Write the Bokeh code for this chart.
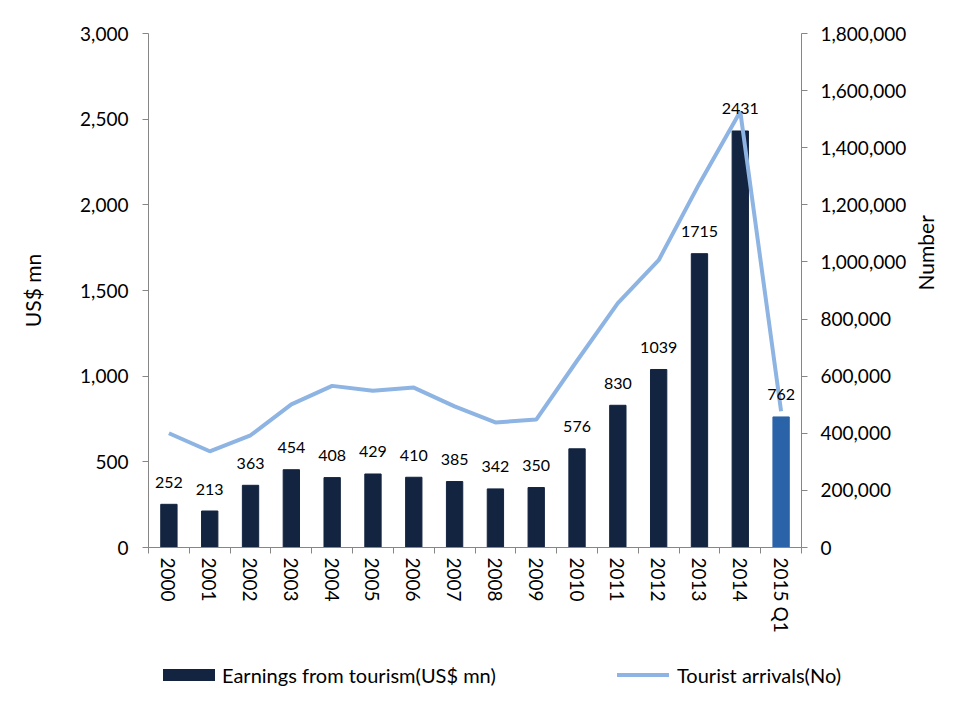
import math
from bokeh.plotting import figure
from bokeh.layouts import column
from bokeh.models import (Range1d, LinearAxis, FixedTicker, NumeralTickFormatter,
                          ColumnDataSource, Div)
from bokeh.core.properties import value
from bokeh.embed import file_html
from bokeh.resources import INLINE

categories = ["2000", "2001", "2002", "2003", "2004", "2005", "2006", "2007",
              "2008", "2009", "2010", "2011", "2012", "2013", "2014", "2015 Q1"]
earnings = [252, 213, 363, 454, 408, 429, 410, 385, 342, 350, 576, 830, 1039, 1715, 2431, 762]
arrivals = [400000, 337000, 393000, 501000, 566000, 549000, 560000, 494000,
            438000, 448000, 654000, 856000, 1006000, 1275000, 1527000, 477000]
left_ticks = [0, 500, 1000, 1500, 2000, 2500, 3000]
right_ticks = [0, 200000, 400000, 600000, 800000, 1000000, 1200000, 1400000, 1600000, 1800000]
series_names = ["Earnings from tourism(US$ mn)", "Tourist arrivals(No)"]

NAVY = "#132440"
BLUE = "#2B63A8"
LINE = "#8DB4E2"
AXIS = "#868686"
FONT = "Lato"

n = len(categories)
xs = list(range(n))
colors = [NAVY] * (n - 1) + [BLUE]
src = ColumnDataSource(dict(x=xs, top=earnings, arr=arrivals, color=colors,
                            lbl=[str(v) for v in earnings]))

p = figure(width=953, height=640, output_backend="svg", toolbar_location=None,
           x_range=Range1d(-0.5, n - 0.5), y_range=Range1d(0, 3000),
           min_border_left=148, min_border_right=150, min_border_top=33,
           min_border_bottom=93)
p.extra_y_ranges = {"right": Range1d(0, 1800000)}
p.outline_line_color = None
p.xgrid.visible = False
p.ygrid.visible = False

bars = p.vbar(x="x", top="top", width=0.4, color="color", source=src)
ln = p.line(x="x", y="arr", y_range_name="right", line_color=LINE, line_width=4,
            source=src)
p.text(x="x", y="top", text="lbl", source=src, text_align="center",
       text_baseline="middle", y_offset=-22, text_font=value(FONT),
       text_font_size="16px", text_color="#000000")

# x axis
xa = p.xaxis[0]
xa.ticker = FixedTicker(ticks=xs, minor_ticks=[i - 0.5 for i in range(n + 1)])
xa.major_label_overrides = {i: c for i, c in enumerate(categories)}
xa.major_label_orientation = "vertical"
xa.major_tick_line_color = None
xa.minor_tick_out = 6
xa.minor_tick_in = 0
xa.minor_tick_line_color = AXIS
xa.axis_line_color = AXIS
xa.major_label_text_font = FONT
xa.major_label_text_font_size = "19px"
xa.major_label_text_color = "#000000"
xa.major_label_standoff = 4

# left axis
ya = p.yaxis[0]
ya.ticker = FixedTicker(ticks=left_ticks)
ya.formatter = NumeralTickFormatter(format="0,0")
ya.axis_label = "US$ mn"
ya.minor_tick_line_color = None
ya.major_tick_out = 6
ya.major_tick_in = 0
ya.major_tick_line_color = AXIS
ya.axis_line_color = AXIS
ya.major_label_text_font = FONT
ya.major_label_text_font_size = "19px"
ya.major_label_text_color = "#000000"
ya.major_label_standoff = 14
ya.axis_label_text_font = FONT
ya.axis_label_text_font_size = "21px"
ya.axis_label_text_font_style = "normal"
ya.axis_label_text_color = "#000000"
ya.axis_label_standoff = 32

# right axis
ra = LinearAxis(y_range_name="right", axis_label="Number")
ra.ticker = FixedTicker(ticks=right_ticks)
ra.formatter = NumeralTickFormatter(format="0,0")
ra.minor_tick_line_color = None
ra.major_tick_out = 6
ra.major_tick_in = 0
ra.major_tick_line_color = AXIS
ra.axis_line_color = AXIS
ra.major_label_text_font = FONT
ra.major_label_text_font_size = "19px"
ra.major_label_text_color = "#000000"
ra.major_label_standoff = 13
ra.axis_label_text_font = FONT
ra.axis_label_text_font_size = "21px"
ra.axis_label_text_font_style = "normal"
ra.axis_label_text_color = "#000000"
ra.axis_label_standoff = 16
ra.axis_label_orientation = math.pi / 2
p.add_layout(ra, "right")

# legend strip (HTML swatches + real text)
legend_html = f"""
<div style="position:relative;width:953px;height:51px;font-family:'{FONT}';
font-size:20px;line-height:24px;color:#000000;">
  <span style="position:absolute;left:163px;top:29px;width:52px;height:12px;
  background:{NAVY};"></span>
  <span style="position:absolute;left:222px;top:23px;white-space:nowrap;">{series_names[0]}</span>
  <span style="position:absolute;left:617px;top:33px;width:52px;height:4px;
  background:{LINE};"></span>
  <span style="position:absolute;left:677px;top:23px;white-space:nowrap;">{series_names[1]}</span>
</div>
"""
lg = Div(text=legend_html, width=953, height=51, margin=0)

layout = column(p, lg, spacing=0)
open("out.html", "w").write(file_html(layout, INLINE))
